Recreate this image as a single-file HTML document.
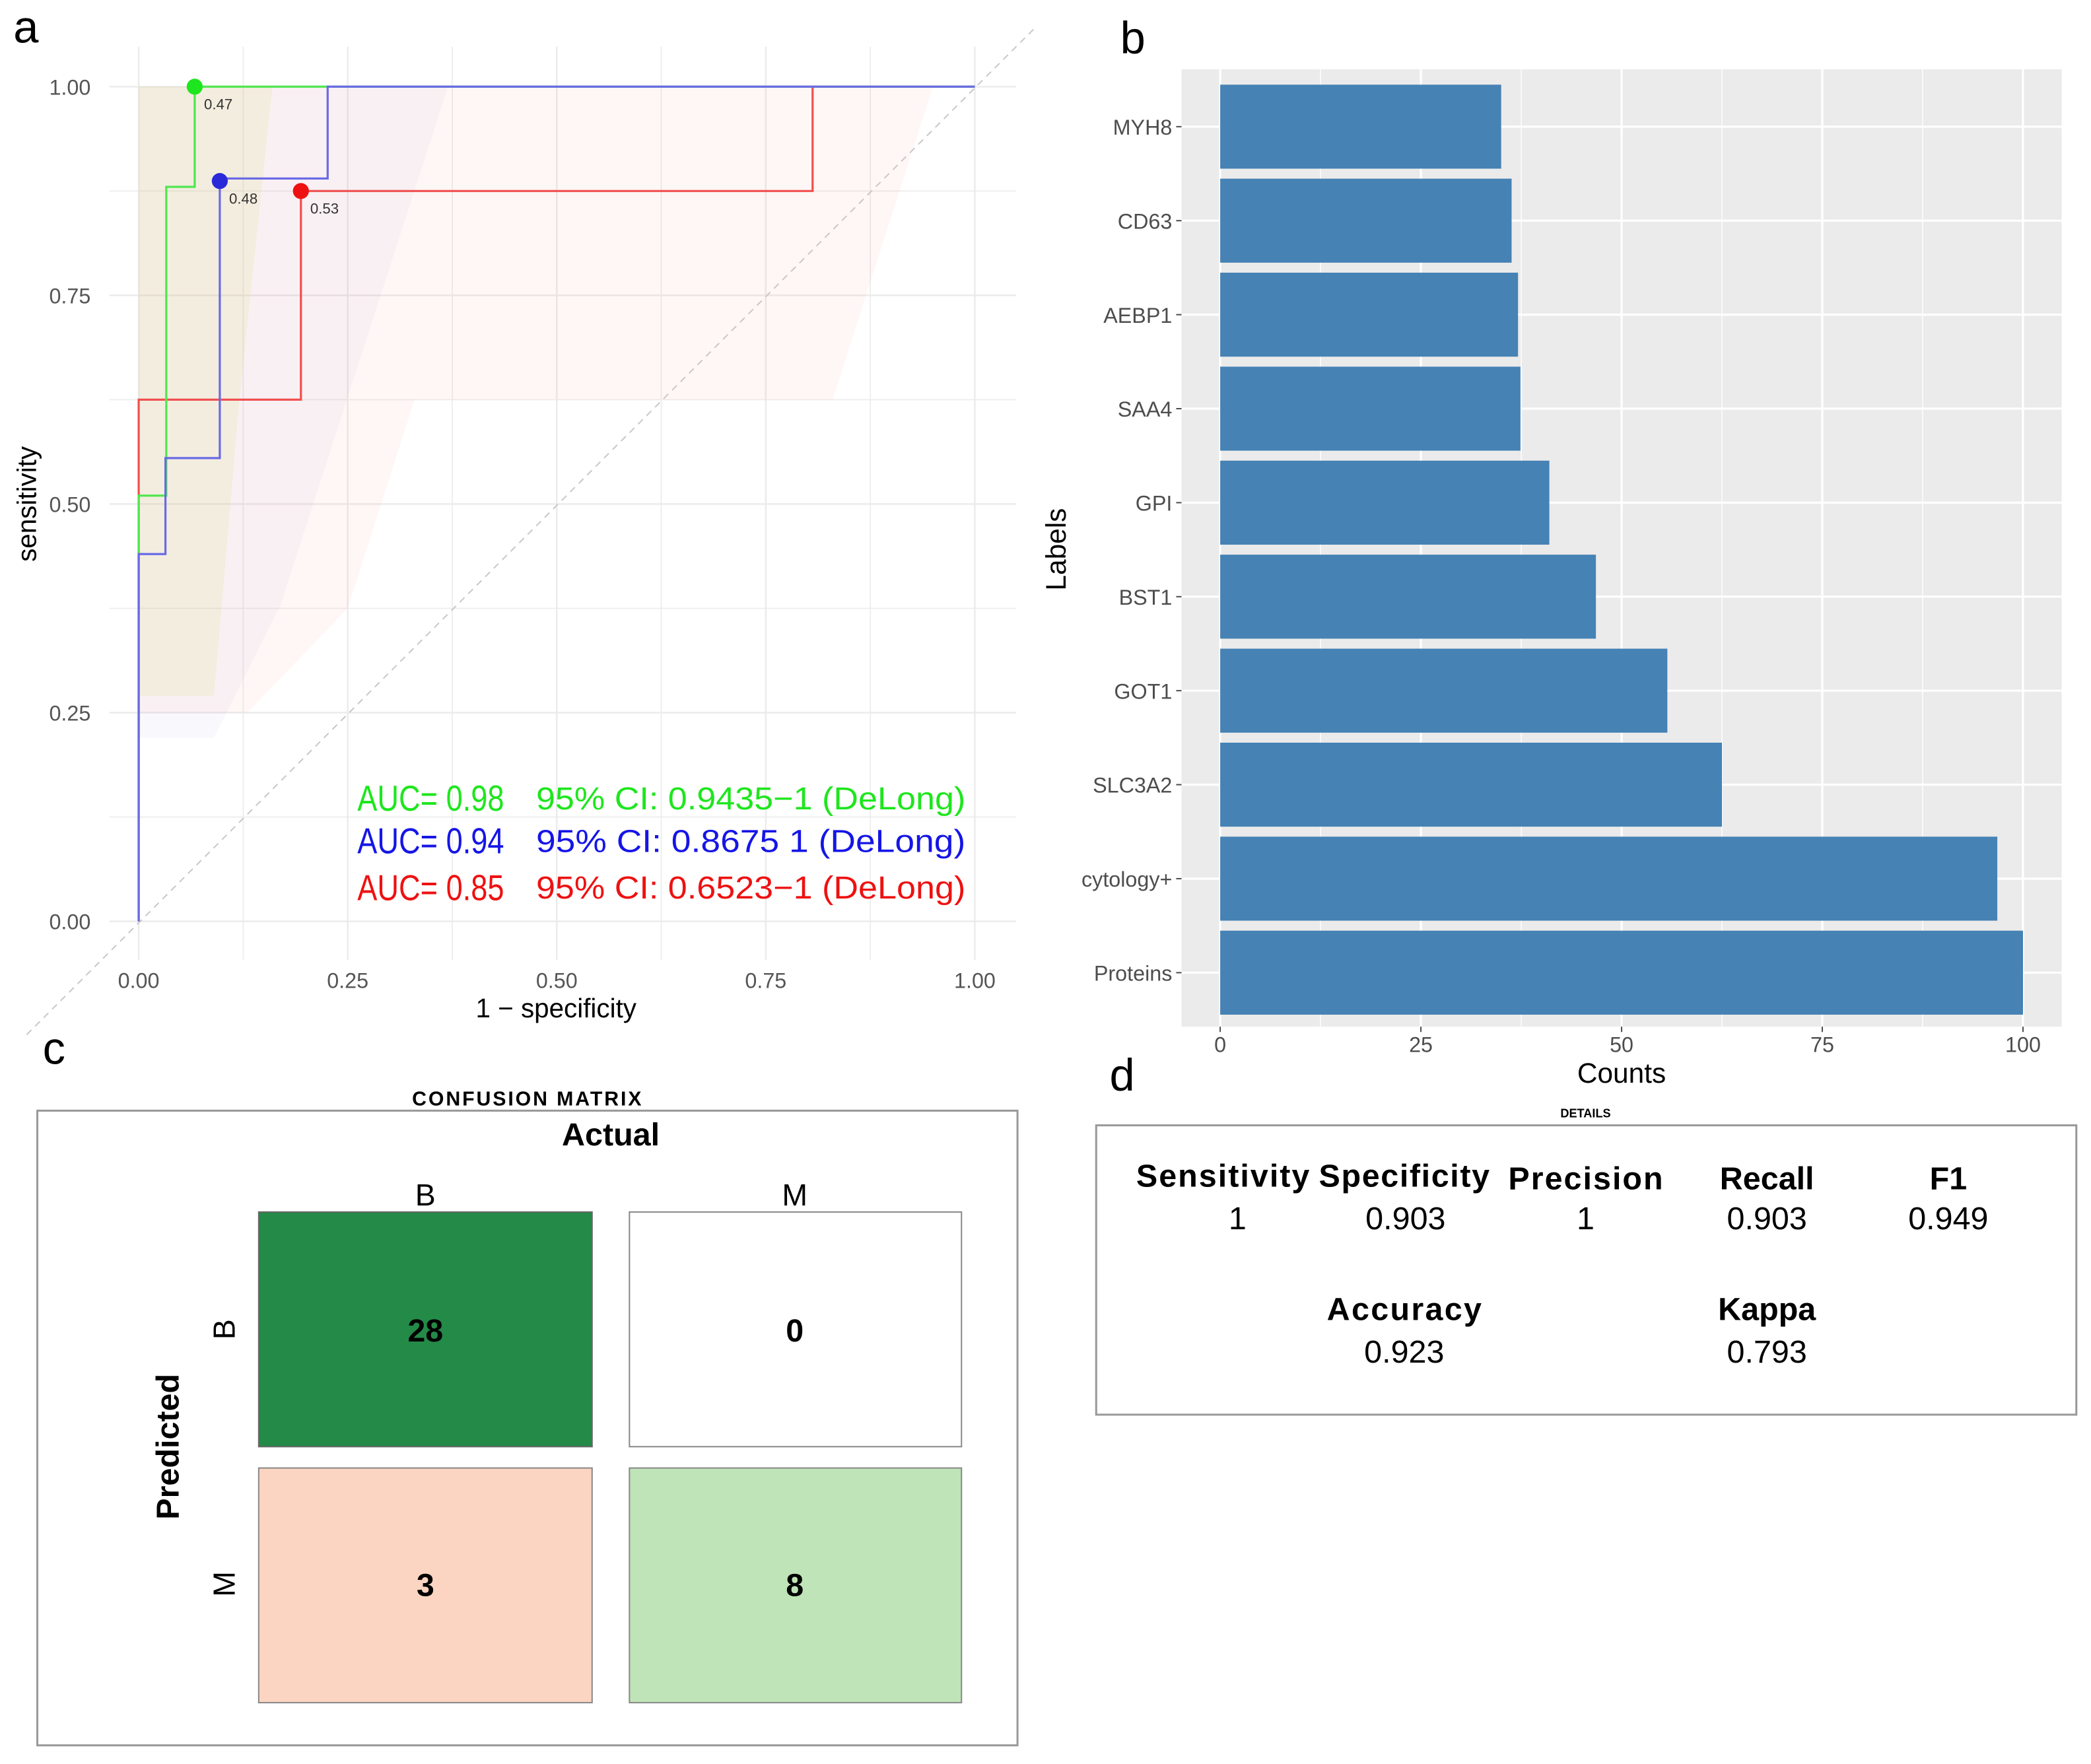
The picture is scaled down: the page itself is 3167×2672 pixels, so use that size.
<!DOCTYPE html>
<html><head><meta charset="utf-8"><style>
html,body{margin:0;padding:0;background:#fff;}
svg{display:block;font-family:"Liberation Sans",sans-serif;}
</style></head><body>
<svg id="fig" width="3167" height="2672" viewBox="0 0 1568 1323" preserveAspectRatio="none" xmlns="http://www.w3.org/2000/svg">
<rect width="1568" height="1323" fill="#fff"/>
<g id="roc"></g>
<g id="bars"></g>

<text x="10" y="32" font-size="34">a</text>
<text x="840" y="40" font-size="34">b</text>
<text x="32" y="798" font-size="34">c</text>
<text x="832" y="818" font-size="34">d</text>

<g>
<text x="395" y="829" font-size="15" font-weight="bold" text-anchor="middle" textLength="172">CONFUSION MATRIX</text>
<rect x="28" y="833" width="735" height="476" fill="#fff" stroke="#999" stroke-width="1.5"/>
<text x="458" y="859" font-size="24" font-weight="bold" text-anchor="middle">Actual</text>
<text x="319" y="904" font-size="23" text-anchor="middle">B</text>
<text x="596" y="904" font-size="23" text-anchor="middle">M</text>
<text transform="translate(134,1085) rotate(-90)" font-size="24" font-weight="bold" text-anchor="middle">Predicted</text>
<text transform="translate(176,997) rotate(-90)" font-size="23" text-anchor="middle">B</text>
<text transform="translate(176,1188) rotate(-90)" font-size="23" text-anchor="middle">M</text>
<rect x="194" y="909" width="250" height="176" fill="#248a48" stroke="#666"/>
<rect x="472" y="909" width="249" height="176" fill="#fff" stroke="#888"/>
<rect x="194" y="1101" width="250" height="176" fill="#fbd5c2" stroke="#888"/>
<rect x="472" y="1101" width="249" height="176" fill="#bfe4b7" stroke="#888"/>
<text x="319" y="1006" font-size="24" font-weight="bold" text-anchor="middle">28</text>
<text x="596" y="1006" font-size="24" font-weight="bold" text-anchor="middle">0</text>
<text x="319" y="1197" font-size="24" font-weight="bold" text-anchor="middle">3</text>
<text x="596" y="1197" font-size="24" font-weight="bold" text-anchor="middle">8</text>
</g>

<g text-anchor="middle">
<text x="1189" y="838" font-size="9" font-weight="bold">DETAILS</text>
<rect x="822" y="844" width="735" height="217" fill="#fff" stroke="#999" stroke-width="1.5"/>
<g font-size="24" font-weight="bold">
<text x="917" y="890" textLength="130">Sensitivity</text>
<text x="1053" y="890" textLength="128">Specificity</text>
<text x="1189" y="892" textLength="116">Precision</text>
<text x="1325" y="892">Recall</text>
<text x="1461" y="892">F1</text>
<text x="1053" y="990" textLength="116">Accuracy</text>
<text x="1325" y="990">Kappa</text>
</g>
<g font-size="24">
<text x="928" y="922">1</text>
<text x="1054" y="922">0.903</text>
<text x="1189" y="922">1</text>
<text x="1325" y="922">0.903</text>
<text x="1461" y="922">0.949</text>
<text x="1053" y="1022">0.923</text>
<text x="1325" y="1022">0.793</text>
</g>
</g>
</svg>
<script>
const NS='http://www.w3.org/2000/svg';
// ---- ROC data ----
const rocTicks=[0,0.25,0.5,0.75,1];
const rocTickLabels=['0.00','0.25','0.50','0.75','1.00'];
const greenFpr=[0,0,0.033,0.033,0.067,0.067,1];
const greenTpr=[0,0.51,0.51,0.88,0.88,1,1];
const blueFpr=[0,0,0.032,0.032,0.097,0.097,0.226,0.226,1];
const blueTpr=[0,0.44,0.44,0.555,0.555,0.89,0.89,1,1];
const redFpr=[0,0,0.194,0.194,0.806,0.806,1];
const redTpr=[0,0.625,0.625,0.875,0.875,1,1];
const bestFpr=[0.067,0.097,0.194];
const bestTpr=[1,0.887,0.875];
const bestLabels=['0.47','0.48','0.53'];
const greenCiX=[0,0.16,0.12,0.09,0,0];
const greenCiY=[1,1,0.62,0.27,0.27,0.8];
const blueCiX=[0,0.37,0.17,0.09,0];
const blueCiY=[1,1,0.38,0.22,0.22];
const redCiX=[0,0.83,0.95,0.83,0.33,0.25,0.13,0];
const redCiY=[1,1,1,0.625,0.625,0.375,0.25,0.25];
// ---- Bar data ----
const barLabels=['MYH8','CD63','AEBP1','SAA4','GPI','BST1','GOT1','SLC3A2','cytology+','Proteins'];
const barValues=[35,36.3,37.1,37.4,41,46.8,55.7,62.5,96.8,100];
const barTicks=[0,25,50,75,100];

function el(p,tag,attrs,text){const e=document.createElementNS(NS,tag);for(const k in attrs)e.setAttribute(k,attrs[k]);if(text!==undefined)e.textContent=text;p.appendChild(e);return e;}

const roc=document.getElementById('roc');
const X=v=>104+v*627, Y=v=>691-v*626;
for(let i=0;i<9;i++){const v=i*0.125;
 let g=el(roc,'line',{x1:X(v),x2:X(v),y1:35,y2:720,stroke:'#ebebeb','stroke-width':i%2?0.8:1.2});
 
 let h=el(roc,'line',{x1:82,x2:762,y1:Y(v),y2:Y(v),stroke:'#ebebeb','stroke-width':i%2?0.8:1.2});
 }
function poly(xs,ys,fill,name){const p=el(roc,'polygon',{points:xs.map((x,i)=>X(x)+','+Y(ys[i])).join(' '),fill:fill});
 }
poly(redCiX,redCiY,'rgba(255,140,120,0.07)','red-ci-band');
poly(blueCiX,blueCiY,'rgba(150,140,220,0.06)','blue-ci-band');
poly(greenCiX,greenCiY,'rgba(210,225,120,0.16)','green-ci-band');
let d=el(roc,'line',{x1:20,y1:776,x2:775,y2:22,stroke:'#c8c8c8','stroke-dasharray':'5,4'});

function curve(xs,ys,c,name){const p=el(roc,'polyline',{points:xs.map((x,i)=>X(x)+','+Y(ys[i])).join(' '),fill:'none',stroke:c,'stroke-width':1.6});
 }
curve(redFpr,redTpr,'#f05050','roc-curve-red');
curve(greenFpr,greenTpr,'#50e650','roc-curve-green');
curve(blueFpr,blueTpr,'#6a6ae6','roc-curve-blue');
const bestCols=['#1ee61e','#2a2ad8','#ee1111'];
bestFpr.forEach((f,i)=>{const c=el(roc,'circle',{cx:X(f),cy:Y(bestTpr[i]),r:6,fill:bestCols[i]});
 
 const t=el(roc,'text',{x:X(f)+7,y:Y(bestTpr[i])+17,'font-size':11,fill:'#333'},bestLabels[i]);
 });
rocTicks.forEach((v,i)=>{
 const a=el(roc,'text',{x:X(v),y:741,'font-size':16,fill:'#555','text-anchor':'middle'},rocTickLabels[i]);
 
 const b=el(roc,'text',{x:68,y:Y(v)+6,'font-size':16,fill:'#555','text-anchor':'end'},rocTickLabels[i]);
 });
let xt=el(roc,'text',{x:417,y:763,'font-size':20,'text-anchor':'middle'},'1 \u2212 specificity');

let yt=el(roc,'text',{transform:'translate(27,378) rotate(-90)','font-size':20,'text-anchor':'middle'},'sensitivity');

const leg=[['#1ee61e','0.98','95% CI: 0.9435\u22121 (DeLong)',608],['#1515e6','0.94','95% CI: 0.8675  1 (DeLong)',640],['#ee1111','0.85','95% CI: 0.6523\u22121 (DeLong)',675]];
leg.forEach(l=>{
 const a=el(roc,'text',{x:268,y:l[3],'font-size':27,fill:l[0],textLength:110,lengthAdjust:'spacingAndGlyphs','xml:space':'preserve'},'AUC=  '+l[1]);
 
 const b=el(roc,'text',{x:402,y:l[3]-1,'font-size':24,fill:l[0],textLength:322,lengthAdjust:'spacingAndGlyphs','xml:space':'preserve'},l[2]);
 });

const bars=document.getElementById('bars');
const BX=v=>915+v*6.02;
const BY=i=>95+i*70.5;
let bg=el(bars,'rect',{x:886,y:52,width:660,height:718,fill:'#ebebeb'});

for(let v=-12.5;v<=105;v+=12.5){if(BX(v)<886)continue;
 const g=el(bars,'line',{x1:BX(v),x2:BX(v),y1:52,y2:770,stroke:'#fff','stroke-width':(v%25===0)?1.6:0.7});
 }
barLabels.forEach((lab,i)=>{
 const g=el(bars,'line',{x1:886,x2:1546,y1:BY(i),y2:BY(i),stroke:'#fff','stroke-width':1.6});
 });
barLabels.forEach((lab,i)=>{
 const r=el(bars,'rect',{x:BX(0),y:BY(i)-31.5,width:BX(barValues[i])-BX(0),height:63,fill:'#4682b4'});
 
 const t=el(bars,'text',{x:879,y:BY(i)+6,'font-size':16,fill:'#4d4d4d','text-anchor':'end'},lab);
 
 const k=el(bars,'line',{x1:882,x2:886,y1:BY(i),y2:BY(i),stroke:'#4d4d4d'});
 });
barTicks.forEach(v=>{
 const t=el(bars,'text',{x:BX(v),y:789,'font-size':16,fill:'#4d4d4d','text-anchor':'middle'},String(v));
 
 const k=el(bars,'line',{x1:BX(v),x2:BX(v),y1:770,y2:774,stroke:'#4d4d4d'});
 });
let bxt=el(bars,'text',{x:1216,y:812,'font-size':21,'text-anchor':'middle'},'Counts');

let byt=el(bars,'text',{transform:'translate(799,412) rotate(-90)','font-size':21,'text-anchor':'middle'},'Labels');

</script>
</body></html>
